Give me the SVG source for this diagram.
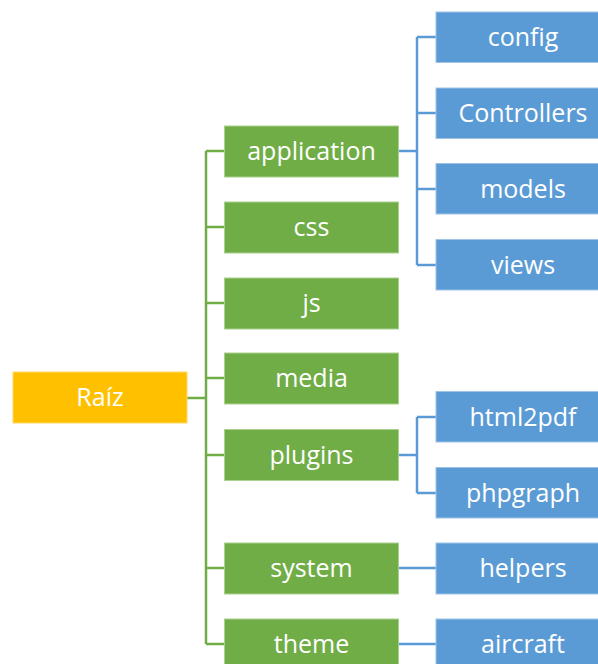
<svg xmlns="http://www.w3.org/2000/svg" width="598" height="664" viewBox="0 0 598 664">
<style>
.root{fill:#FFC000;stroke:#FFD966;stroke-width:1}
.g{fill:#70AD47;stroke:#A9D08E;stroke-width:1}
.b{fill:#5B9BD5;stroke:#9DC3E6;stroke-width:1}
.gl{fill:none;stroke:#70AD47;stroke-width:2.5}
.bl{fill:none;stroke:#5B9BD5;stroke-width:2.5}
text{font-family:"Open Sans","Noto Sans","Liberation Sans",sans-serif;font-size:25px;fill:#fff;text-anchor:middle}
</style>
<rect width="598" height="664" fill="#fff"/>
<g id="connectors">
<path class="gl" d="M187 398H206M206 151V644M206 151H224M206 227H224M206 303H224M206 378H224M206 455H224M206 568H224M206 644H224"/>
<path class="bl" d="M399 151H417M417 37V265M417 37H436M417 113H436M417 189H436M417 265H436"/>
<path class="bl" d="M399 455H417M417 417V493M417 417H436M417 493H436"/>
<path class="bl" d="M399 568H436M399 644H436"/>
</g>
<g id="root"><rect class="root" x="13" y="372" width="174" height="51"/><text x="100" y="406">Raíz</text></g>
<g id="application"><rect class="g" x="224.5" y="126" width="174" height="51"/><text x="311.5" y="160">application</text></g>
<g id="css"><rect class="g" x="224.5" y="202" width="174" height="51"/><text x="311.5" y="236">css</text></g>
<g id="js"><rect class="g" x="224.5" y="278" width="174" height="51"/><text x="311.5" y="312">js</text></g>
<g id="media"><rect class="g" x="224.5" y="353" width="174" height="51"/><text x="311.5" y="387">media</text></g>
<g id="plugins"><rect class="g" x="224.5" y="429.5" width="174" height="51"/><text x="311.5" y="464">plugins</text></g>
<g id="system"><rect class="g" x="224.5" y="543" width="174" height="51"/><text x="311.5" y="577">system</text></g>
<g id="theme"><rect class="g" x="224.5" y="619" width="174" height="51"/><text x="311.5" y="653">theme</text></g>
<g id="config"><rect class="b" x="436" y="12" width="174" height="50.5"/><text x="523" y="46">config</text></g>
<g id="controllers"><rect class="b" x="436" y="88" width="174" height="50.5"/><text x="523" y="122">Controllers</text></g>
<g id="models"><rect class="b" x="436" y="163.5" width="174" height="50.5"/><text x="523" y="198">models</text></g>
<g id="views"><rect class="b" x="436" y="239.5" width="174" height="50.5"/><text x="523" y="274">views</text></g>
<g id="html2pdf"><rect class="b" x="436" y="391.5" width="174" height="50.5"/><text x="523" y="426">html2pdf</text></g>
<g id="phpgraph"><rect class="b" x="436" y="467.5" width="174" height="50.5"/><text x="523" y="502">phpgraph</text></g>
<g id="helpers"><rect class="b" x="436" y="543" width="174" height="51"/><text x="523" y="577">helpers</text></g>
<g id="aircraft"><rect class="b" x="436" y="619" width="174" height="51"/><text x="523" y="653">aircraft</text></g>
</svg>
